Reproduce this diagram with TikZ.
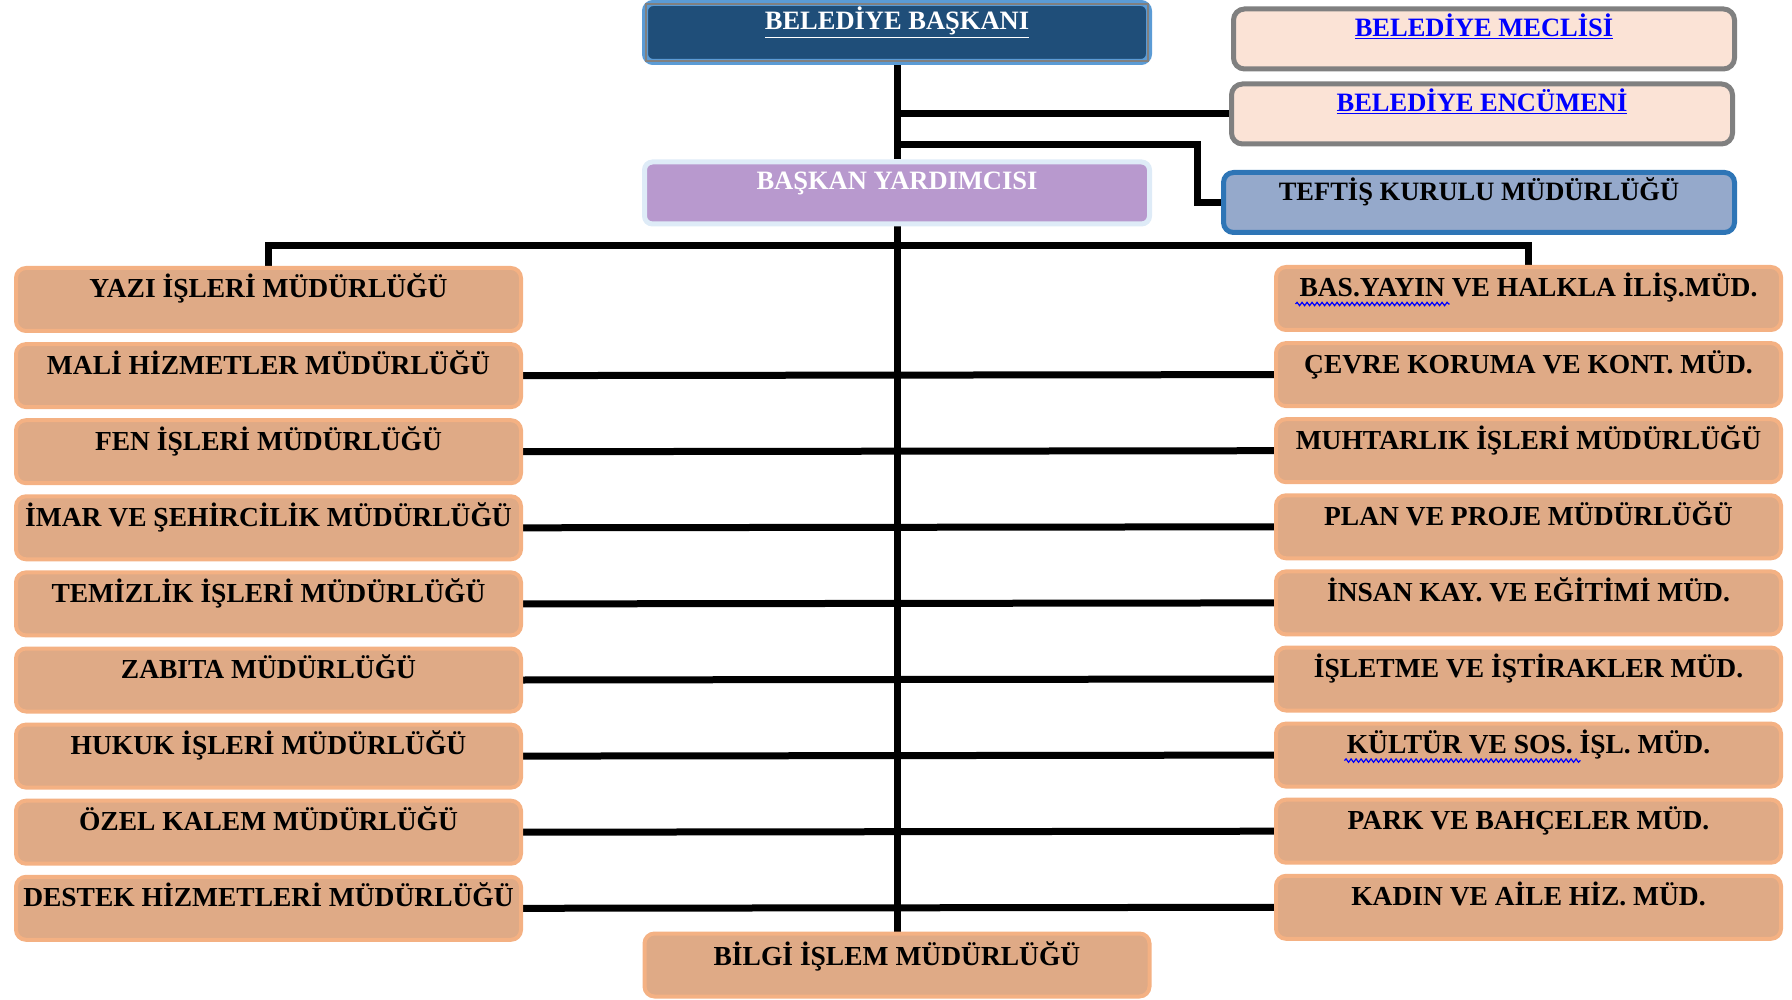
\documentclass[tikz,border=0pt]{standalone}
\usepackage{fontspec}
\setmainfont{Liberation Serif}
\usetikzlibrary{decorations.pathmorphing}
\definecolor{orfill}{HTML}{DFAA86}
\definecolor{oredge}{HTML}{F4B183}
\definecolor{topfill}{HTML}{1F4E79}
\definecolor{topedge}{HTML}{5B9BD5}
\definecolor{peach}{HTML}{FBE3D6}
\definecolor{grayedge}{HTML}{808080}
\definecolor{teftfill}{HTML}{95A9CB}
\definecolor{teftedge}{HTML}{2E75B6}
\definecolor{purp}{HTML}{B899CE}
\definecolor{purpedge}{HTML}{DEEBF7}
\definecolor{linkblue}{HTML}{0000FF}
\pgfdeclarelayer{background}
\pgfsetlayers{background,main}
\tikzset{
  boxbase/.style={rectangle, inner xsep=0pt, inner ysep=0pt, align=center,
    font=\fontsize{27.5}{30}\selectfont\bfseries},
  orbox/.style={boxbase, fill=orfill, draw=oredge, line width=4pt, rounded corners=10pt,
    minimum width=505pt, minimum height=63pt, text height=30pt, text depth=33pt},
  topbox/.style={boxbase, fill=topfill, draw=topedge, line width=6pt, rounded corners=8pt,
    minimum width=504pt, minimum height=59pt, text height=27pt, text depth=32pt, text=white,
    font=\fontsize{26.5}{30}\selectfont\bfseries},
  peachbox/.style={boxbase, fill=peach, draw=grayedge, line width=5pt, rounded corners=11pt,
    minimum width=501pt, minimum height=60pt, text height=28pt, text depth=32pt, text=linkblue,
    font=\fontsize{26.5}{30}\selectfont\bfseries},
  teftbox/.style={boxbase, fill=teftfill, draw=teftedge, line width=5pt, rounded corners=10pt,
    minimum width=511pt, minimum height=60pt, text height=28pt, text depth=32pt,
    font=\fontsize{26.5}{30}\selectfont\bfseries},
  purpbox/.style={boxbase, fill=purp, draw=purpedge, line width=5pt, rounded corners=8pt,
    minimum width=505pt, minimum height=62pt, text height=28pt, text depth=34pt, text=white,
    font=\fontsize{26.5}{30}\selectfont\bfseries},
  conn/.style={line width=7pt, black},
  squig/.style={draw=linkblue, line width=1.2pt, decorate,
    decoration={snake, amplitude=1.7pt, segment length=5pt}}
}
\begin{document}
\begin{tikzpicture}[x=1pt, y=-1pt]
\useasboundingbox (0,0) rectangle (1792,1000);

% top boxes
\node[topbox] (bb) at (897,32.5) {\underline{BELEDİYE BAŞKANI}};
\draw[gray, line width=1.2pt] ([shift={(4,4)}]bb.north west) rectangle ([shift={(-4,-4)}]bb.south east);
\node[peachbox] (mec) at (1484,39) {\underline{BELEDİYE MECLİSİ}};
\node[peachbox] (enc) at (1482,114) {\underline{BELEDİYE ENCÜMENİ}};
\node[teftbox] (tef) at (1479,202.5) {TEFTİŞ KURULU MÜDÜRLÜĞÜ};
\node[purpbox] (by) at (897,193) {BAŞKAN YARDIMCISI};

% left column
\foreach \i/\t in {0/YAZI İŞLERİ MÜDÜRLÜĞÜ, 1/MALİ HİZMETLER MÜDÜRLÜĞÜ, 2/FEN İŞLERİ MÜDÜRLÜĞÜ,
  3/İMAR VE ŞEHİRCİLİK MÜDÜRLÜĞÜ, 4/TEMİZLİK İŞLERİ MÜDÜRLÜĞÜ, 5/ZABITA MÜDÜRLÜĞÜ,
  6/HUKUK İŞLERİ MÜDÜRLÜĞÜ, 7/ÖZEL KALEM MÜDÜRLÜĞÜ, 8/DESTEK HİZMETLERİ MÜDÜRLÜĞÜ}
  \node[orbox] (L\i) at (268.5,{299.5+76.1*\i}) {\t};

% right column
\foreach \i/\t in {0/BAS.YAYIN VE HALKLA İLİŞ.MÜD., 1/ÇEVRE KORUMA VE KONT. MÜD., 2/MUHTARLIK İŞLERİ MÜDÜRLÜĞÜ,
  3/PLAN VE PROJE MÜDÜRLÜĞÜ, 4/İNSAN KAY. VE EĞİTİMİ MÜD., 5/İŞLETME VE İŞTİRAKLER MÜD.,
  6/KÜLTÜR VE SOS. İŞL. MÜD., 7/PARK VE BAHÇELER MÜD., 8/KADIN VE AİLE HİZ. MÜD.}
  \node[orbox] (R\i) at (1528.5,{298.5+76.1*\i}) {\t};

\node[orbox, text height=32pt, text depth=31pt] (bilgi) at (897,965) {BİLGİ İŞLEM MÜDÜRLÜĞÜ};

% spell-check squiggles
\draw[squig] ([shift={(-233,39)}]R0.north) -- ++(154,0);
\draw[squig] ([shift={(-184,39)}]R6.north) -- ++(236,0);

% connectors
\coordinate (k2) at (897,145);
\coordinate (k3) at (1197,145);
\coordinate (mh) at (897,246);
\begin{pgfonlayer}{background}
\draw[conn] (bb.south) -- (by.north);
\draw[conn] (bb.south |- enc.west) -- (enc.west);
\draw[conn] (k2) -- (k3) |- (tef.west);
\draw[conn] (L0.north) |- (mh) -| (R0.north);
\draw[conn] (by.south) -- (bilgi.north);
\foreach \i in {1,...,8}
  \draw[conn] (L\i.east) -- (R\i.west);
\end{pgfonlayer}
\end{tikzpicture}
\end{document}
